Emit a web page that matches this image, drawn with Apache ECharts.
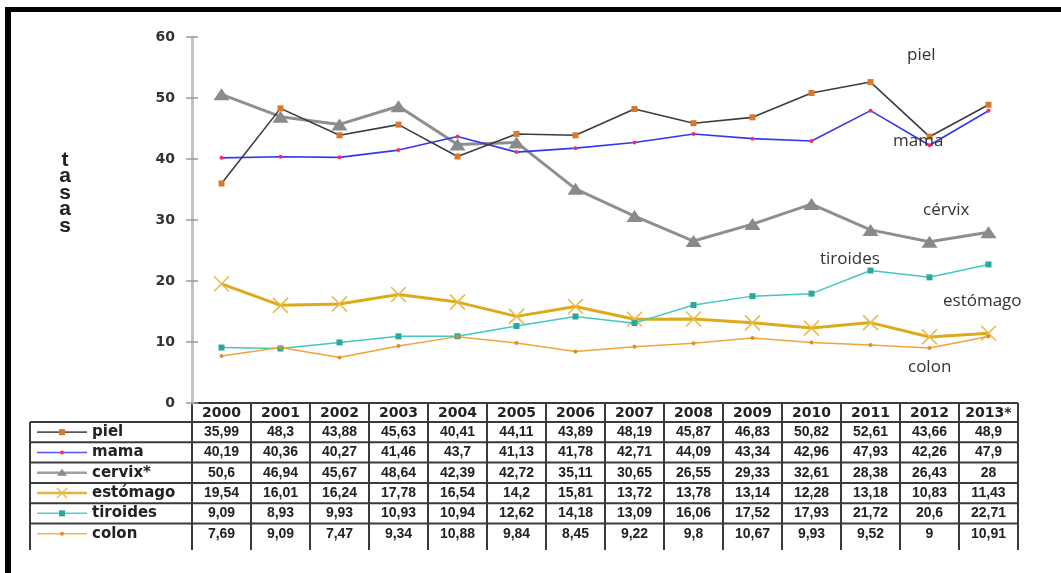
<!DOCTYPE html>
<html>
<head>
<meta charset="utf-8">
<script src="https://cdn.jsdelivr.net/npm/echarts@6/dist/echarts.min.js"></script>
<style>
html, body { margin: 0; padding: 0; background: #fff; }
#main { width: 1061px; height: 573px; }
</style>
</head>
<body>
<div id="main"></div>
<script>
// datos (tasas por año)
var years = ['2000', '2001', '2002', '2003', '2004', '2005', '2006', '2007', '2008', '2009', '2010', '2011', '2012', '2013*'];
var piel = [35.99, 48.3, 43.88, 45.63, 40.41, 44.11, 43.89, 48.19, 45.87, 46.83, 50.82, 52.61, 43.66, 48.9];
var mama = [40.19, 40.36, 40.27, 41.46, 43.7, 41.13, 41.78, 42.71, 44.09, 43.34, 42.96, 47.93, 42.26, 47.9];
var cervix = [50.6, 46.94, 45.67, 48.64, 42.39, 42.72, 35.11, 30.65, 26.55, 29.33, 32.61, 28.38, 26.43, 28];
var estomago = [19.54, 16.01, 16.24, 17.78, 16.54, 14.2, 15.81, 13.72, 13.78, 13.14, 12.28, 13.18, 10.83, 11.43];
var tiroides = [9.09, 8.93, 9.93, 10.93, 10.94, 12.62, 14.18, 13.09, 16.06, 17.52, 17.93, 21.72, 20.6, 22.71];
var colon = [7.69, 9.09, 7.47, 9.34, 10.88, 9.84, 8.45, 9.22, 9.8, 10.67, 9.93, 9.52, 9, 10.91];

var rowNames = ['piel', 'mama', 'cervix*', 'estómago', 'tiroides', 'colon'];
var tagNames = ['piel', 'mama', 'cérvix', 'estómago', 'tiroides', 'colon'];

var X_PATH = 'path://M0,0L10,10M10,0L0,10';

var styles = [
	{ data: piel, line: '#3c3c3c', lw: 1.6, sym: 'rect', size: 6, mc: '#d9782c' },
	{ data: mama, line: '#3636f0', lw: 1.6, sym: 'circle', size: 4, mc: '#ff2a58' },
	{ data: cervix, line: '#8f8f8f', lw: 3, sym: 'triangle', size: [16, 12], mc: '#8a8a8a' },
	{ data: estomago, line: '#deaa1c', lw: 3, sym: X_PATH, size: 15, mc: '#e6bd4a' },
	{ data: tiroides, line: '#40c8c2', lw: 1.5, sym: 'rect', size: 6, mc: '#2aa89b' },
	{ data: colon, line: '#f2a33a', lw: 1.5, sym: 'circle', size: 4, mc: '#e08a2a' }
];

// posiciones de las etiquetas de texto (mismo orden que tagNames)
var tagPos = [[907, 55], [893, 141], [923, 210], [943, 301], [820, 259], [908, 367]];

var chart = echarts.init(document.getElementById('main'));

var series = styles.map(function(s, i){
	var isX = s.sym === X_PATH;
	return {
		name: rowNames[i],
		type: 'line',
		data: s.data,
		symbol: s.sym,
		symbolSize: s.size,
		showAllSymbol: true,
		animation: false,
		z: i === 0 ? 4 : (i === 2 || i === 3 ? 2 : 3),
		lineStyle: { color: s.line, width: s.lw },
		itemStyle: isX ? { color: s.mc, borderColor: s.mc, borderWidth: 1.6 } : { color: s.mc, borderWidth: 0 }
	};
});

var option = {
	backgroundColor: '#fff',
	animation: false,
	grid: { left: 192, right: 43, top: 37, bottom: 170 },
	xAxis: {
		type: 'category',
		data: years,
		boundaryGap: true,
		axisLine: { show: false },
		axisTick: { show: false },
		axisLabel: { show: false },
		splitLine: { show: false }
	},
	yAxis: [{
		type: 'value',
		min: 0, max: 60, interval: 10,
		axisLine: { show: true, lineStyle: { color: '#c2c2c2', width: 3 } },
		axisTick: { show: true, length: 6, lineStyle: { color: '#9a9a9a', width: 1.5 } },
		axisLabel: { margin: 17, color: '#333', fontFamily: 'DejaVu Sans', fontWeight: 'bold', fontSize: 14 },
		splitLine: { show: false }
	}, {
		type: 'value',
		position: 'left',
		min: 0, max: 60, interval: 10,
		axisLine: { show: false },
		axisTick: { show: true, inside: true, length: 6, lineStyle: { color: '#9a9a9a', width: 1.5 } },
		axisLabel: { show: false },
		splitLine: { show: false }
	}],
	series: series
};
chart.setOption(option);

// tabla de datos bajo el gráfico
var headTop = 403, rowTop = 422, rowH = 20.3, tableBottom = 550, legLeft = 30;
var centers = years.map(function(y, i){ return chart.convertToPixel({ xAxisIndex: 0 }, i); });
var half = (centers[1] - centers[0]) / 2;
var tabLeft = centers[0] - half, tabRight = centers[centers.length - 1] + half;
var border = { stroke: '#3a3a3a', lineWidth: 2 };

var g = [];
// marco exterior
g.push({ type: 'rect', shape: { x: 5, y: 7, width: 1056, height: 5 }, style: { fill: '#000' } });
g.push({ type: 'rect', shape: { x: 5, y: 7, width: 6, height: 566 }, style: { fill: '#000' } });

// eje y: nombre vertical
g.push({ type: 'text', x: 65, y: 193, style: { text: 't\na\ns\na\ns', fontFamily: 'Liberation Sans', fontWeight: 'bold', fontSize: 21, lineHeight: 16.5, fill: '#222', align: 'center', verticalAlign: 'middle' } });

// líneas horizontales
g.push({ type: 'line', shape: { x1: tabLeft, y1: headTop, x2: tabRight, y2: headTop }, style: border });
for (var r = 0; r < rowNames.length; r++) {
	var yy = rowTop + r * rowH;
	g.push({ type: 'line', shape: { x1: legLeft, y1: yy, x2: tabRight, y2: yy }, style: border });
}
// líneas verticales
g.push({ type: 'line', shape: { x1: legLeft, y1: rowTop, x2: legLeft, y2: tableBottom }, style: border });
for (var c = 0; c <= years.length; c++) {
	var xx = tabLeft + c * half * 2;
	g.push({ type: 'line', shape: { x1: xx, y1: headTop, x2: xx, y2: tableBottom }, style: border });
}
// cabecera de años
years.forEach(function(y, i){
	g.push({ type: 'text', x: centers[i], y: headTop + 10, style: { text: y, fontFamily: 'DejaVu Sans', fontWeight: 'bold', fontSize: 14, fill: '#222', align: 'center', verticalAlign: 'middle' } });
});
// filas
styles.forEach(function(s, r){
	var cy = rowTop + r * rowH + rowH / 2;
	// muestra de leyenda
	g.push({ type: 'line', shape: { x1: 37, y1: cy, x2: 87, y2: cy }, style: { stroke: s.line, lineWidth: Math.min(s.lw, 2.5), opacity: 0.85 } });
	if (s.sym === 'rect') {
		g.push({ type: 'rect', shape: { x: 59, y: cy - 3, width: 6, height: 6 }, style: { fill: s.mc } });
	} else if (s.sym === 'circle') {
		g.push({ type: 'circle', shape: { cx: 62, cy: cy, r: 2 }, style: { fill: s.mc } });
	} else if (s.sym === 'triangle') {
		g.push({ type: 'polygon', shape: { points: [[62, cy - 4], [67, cy + 3], [57, cy + 3]] }, style: { fill: s.mc } });
	} else {
		g.push({ type: 'polyline', shape: { points: [[57, cy - 5], [67, cy + 5]] }, style: { stroke: s.mc, lineWidth: 1.5 } });
		g.push({ type: 'polyline', shape: { points: [[67, cy - 5], [57, cy + 5]] }, style: { stroke: s.mc, lineWidth: 1.5 } });
	}
	g.push({ type: 'text', x: 92, y: cy, style: { text: rowNames[r], fontFamily: 'DejaVu Sans', fontWeight: 'bold', fontSize: 15, fill: '#222', verticalAlign: 'middle' } });
	s.data.forEach(function(v, i){
		g.push({ type: 'text', x: centers[i], y: cy, style: { text: String(v).replace('.', ','), fontFamily: 'Liberation Sans', fontWeight: 'bold', fontSize: 14, fill: '#222', align: 'center', verticalAlign: 'middle' } });
	});
});
// etiquetas junto a las líneas
tagNames.forEach(function(t, i){
	g.push({ type: 'text', x: tagPos[i][0], y: tagPos[i][1], z: 10, style: { text: t, fontFamily: 'Open Sans', fontSize: 17, fill: '#333', verticalAlign: 'middle' } });
});

chart.setOption({ graphic: g });
</script>
</body>
</html>
